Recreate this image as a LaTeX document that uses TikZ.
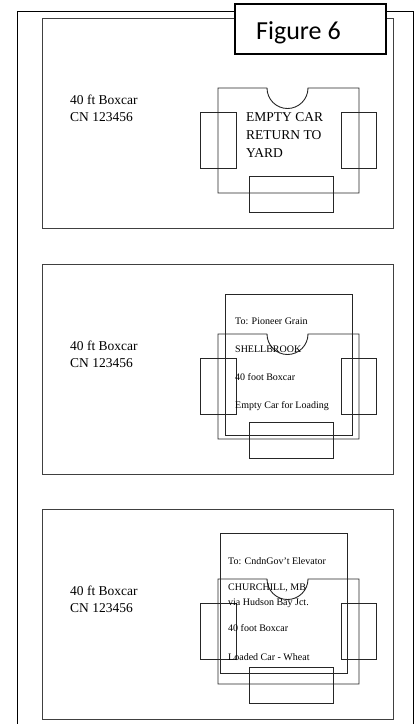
\documentclass[tikz,border=0pt]{standalone}
\usepackage{fontspec}
\setmainfont{Liberation Serif}
\newfontfamily\calfont{Carlito}
\begin{document}
\begin{tikzpicture}[x=1pt,y=-1pt,
  panel/.style={draw=black!75,line width=1pt},
  part/.style={draw=black!85,line width=0.9pt},
  carno/.style={font=\fontsize{13.5}{17}\selectfont,align=left,anchor=north west,inner sep=0pt},
  tag/.style={font=\fontsize{10}{12}\selectfont,anchor=base west,inner sep=0pt}]
\useasboundingbox (0,0) rectangle (418,724);
\draw[line width=0.8pt] (17,724) -- (17,11) -- (413,11) -- (413,724);
\foreach \p [count=\i] in {18,264,509} {
   \draw[panel] (42,\p) rectangle (393,\p+210);
   \draw[part] (267,\p+70) -- (218,\p+70) -- (218,\p+175) -- (359,\p+175) -- (359,\p+70) -- (308,\p+70)
      arc[start angle=0,end angle=180,radius=20.5];
   \draw[part] (200,\p+94) rectangle (236,\p+150);
   \draw[part] (341,\p+94) rectangle (376,\p+150);
   \draw[part] (249,\p+158) rectangle (333,\p+194);
   \node[carno] (car\i) at (70,\p+77) {40 ft Boxcar\\CN 123456};
}
\node[carno,font=\fontsize{13.5}{18}\selectfont] (empty) at (246,112) {EMPTY CAR\\RETURN TO\\YARD};
% cards
\draw[part] (225,294) rectangle (352,435);
\draw[part] (220,533) rectangle (347,673);
\node[tag] (to2) at (235,324) {To: Pioneer Grain};
\node[tag] (town2) at (235,352) {SHELLBROOK};
\node[tag] (size2) at (235,380) {40 foot Boxcar};
\node[tag] (load2) at (235,408) {Empty Car for Loading};
\node[tag] (to3) at (228,564) {To: CndnGov't Elevator};
\node[tag] (town3) at (228,590) {CHURCHILL, MB};
\node[tag] (via3) at (228,605) {via Hudson Bay Jct.};
\node[tag] (size3) at (228,631) {40 foot Boxcar};
\node[tag] (load3) at (228,660) {Loaded Car - Wheat};
% title
\draw[line width=2.5pt,fill=white] (235,4) rectangle (386,54);
\node[font=\calfont\fontsize{26}{30}\selectfont,anchor=base west,inner sep=0pt] (title) at (256,39) {Figure 6};
\end{tikzpicture}
\end{document}
